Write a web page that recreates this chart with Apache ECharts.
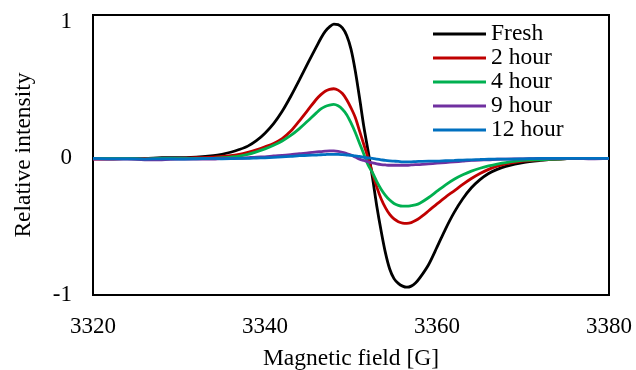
<!DOCTYPE html>
<html>
<head>
<meta charset="utf-8">
<script src="https://cdn.jsdelivr.net/npm/echarts@6/dist/echarts.min.js"></script>
<style>
  html, body { margin: 0; padding: 0; background: #fff; }
  #esrChartBox { width: 636px; height: 370px; }
</style>
</head>
<body>
<div id="esrChartBox"></div>
<script>
const field = [
  3320, 3322, 3324, 3326, 3328, 3330, 3332, 3334,
  3335, 3336, 3337, 3338, 3339, 3340, 3341, 3342, 3343, 3344, 3345, 3346,
  3346.5, 3347, 3347.5, 3348, 3348.5, 3349, 3349.5, 3350, 3350.5, 3351, 3351.5, 3352,
  3352.5, 3353, 3353.5, 3354, 3354.5, 3355, 3355.5, 3356, 3356.5, 3357, 3357.5, 3358,
  3359, 3360, 3361, 3362, 3363, 3364, 3365, 3366, 3367, 3368,
  3370, 3372, 3374, 3376, 3378, 3380
];

const fresh = [
  0, 0, 0, 0, 0.005, 0.005, 0.01, 0.02,
  0.03, 0.045, 0.065, 0.09, 0.13, 0.185, 0.255, 0.345, 0.455, 0.575, 0.70, 0.82,
  0.88, 0.93, 0.963, 0.983, 0.98, 0.955, 0.9, 0.8, 0.64, 0.44, 0.23, 0.05,
  -0.14, -0.35, -0.53, -0.69, -0.81, -0.88, -0.915, -0.935, -0.943, -0.935, -0.912, -0.875,
  -0.78, -0.65, -0.515, -0.395, -0.295, -0.215, -0.155, -0.11, -0.08, -0.058,
  -0.03, -0.015, -0.005, 0, 0, 0
];

const hour2 = [
  -0.005, -0.005, 0, 0, 0, 0, 0.005, 0.01,
  0.015, 0.02, 0.03, 0.045, 0.063, 0.085, 0.11, 0.145, 0.2, 0.275, 0.355, 0.435,
  0.467, 0.492, 0.505, 0.51, 0.5, 0.475, 0.43, 0.37, 0.3, 0.2, 0.1, 0.0,
  -0.11, -0.21, -0.295, -0.36, -0.41, -0.443, -0.463, -0.473, -0.475, -0.47, -0.455, -0.435,
  -0.385, -0.333, -0.283, -0.237, -0.19, -0.147, -0.11, -0.08, -0.057, -0.04,
  -0.02, -0.01, -0.005, 0, 0, 0
];

const hour4 = [
  0, 0, 0, -0.005, 0, 0, 0, 0,
  0.005, 0.01, 0.017, 0.03, 0.048, 0.07, 0.096, 0.128, 0.168, 0.218, 0.276, 0.335,
  0.362, 0.38, 0.39, 0.395, 0.385, 0.36, 0.32, 0.26, 0.19, 0.11, 0.03, -0.05,
  -0.105, -0.17, -0.225, -0.27, -0.305, -0.33, -0.344, -0.35, -0.35, -0.346, -0.34, -0.328,
  -0.288, -0.24, -0.193, -0.152, -0.12, -0.093, -0.072, -0.055, -0.041, -0.03,
  -0.015, -0.01, -0.005, 0, 0, 0
];

const hour9 = [
  -0.005, -0.005, -0.005, -0.01, -0.01, -0.005, -0.005, -0.005,
  0, 0, 0, 0.005, 0.01, 0.012, 0.018, 0.022, 0.028, 0.035, 0.04, 0.048,
  0.05, 0.053, 0.055, 0.055, 0.052, 0.045, 0.035, 0.025, 0.01, -0.005, -0.015, -0.025,
  -0.033, -0.04, -0.045, -0.048, -0.05, -0.05, -0.05, -0.05, -0.05, -0.048, -0.046, -0.045,
  -0.04, -0.035, -0.03, -0.025, -0.02, -0.015, -0.012, -0.01, -0.006, -0.005,
  -0.003, 0, 0, 0, -0.003, 0
];

const hour12 = [
  0, -0.003, -0.003, -0.005, -0.003, -0.005, -0.003, 0,
  -0.003, -0.002, 0, 0, 0.003, 0.005, 0.008, 0.012, 0.015, 0.02, 0.022, 0.025,
  0.027, 0.028, 0.03, 0.03, 0.03, 0.028, 0.025, 0.022, 0.018, 0.015, 0.008, 0.003,
  0, -0.005, -0.01, -0.015, -0.018, -0.02, -0.022, -0.025, -0.025, -0.025, -0.023, -0.022,
  -0.02, -0.02, -0.017, -0.015, -0.012, -0.01, -0.008, -0.006, -0.005, -0.005,
  -0.003, 0, 0, 0, 0, 0
];

const seriesNames = ['Fresh', '2 hour', '4 hour', '9 hour', '12 hour'];
const seriesColors = ['#000000', '#C00000', '#00B050', '#7030A0', '#0070C0'];
const seriesValues = [fresh, hour2, hour4, hour9, hour12];

const fontFamily = '"Liberation Serif", "Times New Roman", serif';

const chartDom = document.getElementById('esrChartBox');
const myChart = echarts.init(chartDom, null, { renderer: 'canvas' });

const option = {
  animation: false,
  backgroundColor: '#fff',
  color: seriesColors,
  textStyle: { fontFamily: fontFamily, color: '#000' },
  grid: {
    left: 93,
    right: 27,
    top: 15,
    bottom: 75,
    containLabel: false,
    outerBoundsMode: 'none',
    show: true,
    borderColor: '#000',
    borderWidth: 2,
    backgroundColor: 'transparent'
  },
  legend: {
    orient: 'vertical',
    left: 433,
    top: 22,
    padding: 0,
    icon: 'rect',
    itemWidth: 53,
    itemHeight: 3,
    itemGap: 0,
    textStyle: {
      fontFamily: fontFamily,
      fontSize: 23.5,
      lineHeight: 23.5,
      color: '#000'
    },
    data: seriesNames
  },
  xAxis: {
    type: 'value',
    min: 3320,
    max: 3380,
    interval: 20,
    name: 'Magnetic field [G]',
    nameLocation: 'middle',
    nameGap: 52,
    nameTextStyle: { fontFamily: fontFamily, fontSize: 23.5, color: '#000' },
    axisLine: { show: false },
    axisTick: { show: false },
    splitLine: { show: false },
    axisLabel: {
      margin: 20,
      fontFamily: fontFamily,
      fontSize: 23,
      color: '#000',
      formatter: function (v) { return String(v); }
    }
  },
  yAxis: {
    type: 'value',
    min: -1,
    max: 1.05,
    interval: 1,
    name: 'Relative intensity',
    nameLocation: 'middle',
    nameGap: 57,
    nameTextStyle: { fontFamily: fontFamily, fontSize: 23.5, color: '#000' },
    axisLine: { show: false },
    axisTick: { show: false },
    splitLine: { show: false },
    axisLabel: {
      margin: 21,
      showMaxLabel: false,
      padding: [3, 0, 0, 0],
      fontFamily: fontFamily,
      fontSize: 23,
      color: '#000',
      formatter: function (v) {
        return Number.isInteger(v) ? String(v) : '';
      }
    }
  },
  series: seriesNames.map(function (name, i) {
    return {
      name: name,
      type: 'line',
      showSymbol: false,
      symbol: 'none',
      smooth: 0.3,
      lineStyle: { width: 2.8, color: seriesColors[i] },
      itemStyle: { color: seriesColors[i] },
      data: field.map(function (b, j) { return [b, seriesValues[i][j]]; })
    };
  })
};

option && myChart.setOption(option);
</script>
</body>
</html>
